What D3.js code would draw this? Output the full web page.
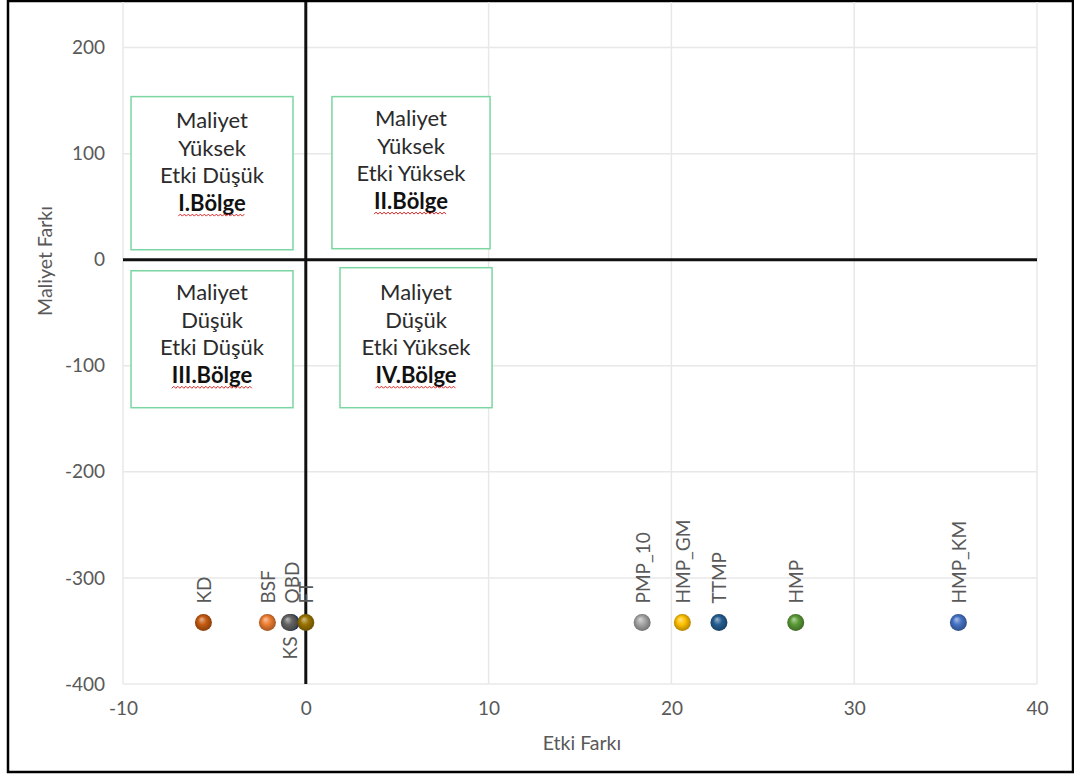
<!DOCTYPE html>
<html>
<head>
<meta charset="utf-8">
<script src="https://cdn.jsdelivr.net/npm/d3@7"></script>
<style>
  html, body { margin: 0; padding: 0; background: #fff; }
  svg { display: block; }
  text { font-family: Lato, "Open Sans", sans-serif; }
</style>
</head>
<body>
<svg id="chart" width="1074" height="774"></svg>
<script>
// Alternatives: effect difference (Etki Farkı) vs cost difference (Maliyet Farkı)
const names        = ["KD", "BSF", "OBD", "KS", "FT", "PMP_10", "HMP_GM", "TTMP", "HMP", "HMP_KM"];
const etkiFarki    = [-5.6, -2.1, -0.8, -0.9, 0.0, 18.4, 20.6, 22.6, 26.8, 35.7];
const maliyetFarki = [-342, -342, -342, -342, -342, -342, -342, -342, -342, -342];
const labelSide    = ["above", "above", "above", "below", "above", "above", "above", "above", "above", "above"];
const pointColors  = ["#c55a11", "#ed7d31", "#264478", "#636363", "#997300", "#a5a5a5", "#ffc000", "#255e91", "#5a9a36", "#4472c4"];

const xTicks = [-10, 0, 10, 20, 30, 40];
const yTicks = [-400, -300, -200, -100, 0, 100, 200];

// Quadrant annotation boxes (corners in data units)
const boxLines = [
  ["Maliyet", "Yüksek", "Etki Düşük", "I.Bölge"],
  ["Maliyet", "Yüksek", "Etki Yüksek", "II.Bölge"],
  ["Maliyet", "Düşük", "Etki Düşük", "III.Bölge"],
  ["Maliyet", "Düşük", "Etki Yüksek", "IV.Bölge"]
];
const boxX0 = [-9.56, 1.43, -9.56, 1.87];
const boxX1 = [-0.70, 10.08, -0.70, 10.19];
const boxY0 = [153.8, 153.8, -10.4, -7.5];
const boxY1 = [9.4, 10.4, -139.5, -139.5];
const boxPad = [23, 21, 21, 24];

const svg = d3.select("#chart");
const W = 1074, H = 774;

const x = d3.scaleLinear().domain([-10, 40]).range([123, 1037]);
const y = d3.scaleLinear().domain([-400, 243]).range([684, 2]);

// outer frame
svg.append("rect")
  .attr("x", 8).attr("y", 1).attr("width", W - 9).attr("height", H - 3)
  .attr("fill", "#fff").attr("stroke", "#000").attr("stroke-width", 2.5);

// gridlines
const grid = svg.append("g").attr("stroke", "#e8e8e8").attr("stroke-width", 1.5);
grid.selectAll("line.h").data(yTicks.filter(d => d !== 0)).join("line")
  .attr("x1", x(-10)).attr("x2", x(40))
  .attr("y1", d => y(d)).attr("y2", d => y(d));
grid.selectAll("line.v").data(xTicks.filter(d => d !== 0)).join("line")
  .attr("y1", y(243)).attr("y2", y(-400))
  .attr("x1", d => x(d)).attr("x2", d => x(d));

// tick labels via d3 axes (domain/ticks hidden)
const xAxis = svg.append("g")
  .attr("transform", `translate(0,${y(-400)})`)
  .call(d3.axisBottom(x).tickValues(xTicks).tickSize(0).tickPadding(18).tickFormat(d3.format("d")));
const yAxis = svg.append("g")
  .attr("transform", `translate(${x(-10)},0)`)
  .call(d3.axisLeft(y).tickValues(yTicks).tickSize(0).tickPadding(18).tickFormat(d3.format("d")));
[xAxis, yAxis].forEach(a => {
  a.select(".domain").remove();
  a.selectAll("text")
    .attr("font-family", "Lato, sans-serif").attr("font-size", 19)
    .attr("fill", "#595959");
  a.selectAll("text").text(d => d < 0 ? "-" + Math.abs(d) : d);
});

// axis lines crossing at zero
svg.append("line")
  .attr("x1", x(-10)).attr("x2", x(40)).attr("y1", y(0)).attr("y2", y(0))
  .attr("stroke", "#111").attr("stroke-width", 3);
svg.append("line")
  .attr("x1", x(0)).attr("x2", x(0)).attr("y1", y(243)).attr("y2", y(-400))
  .attr("stroke", "#111").attr("stroke-width", 3);

// axis titles
svg.append("text")
  .attr("x", (x(-10) + x(40)) / 2 + 2).attr("y", 742)
  .attr("text-anchor", "middle").attr("dominant-baseline", "central")
  .attr("font-size", 19.5).attr("fill", "#595959")
  .text("Etki Farkı");
svg.append("text")
  .attr("transform", `translate(44,261) rotate(-90)`)
  .attr("text-anchor", "middle").attr("dominant-baseline", "central")
  .attr("font-size", 19.5).attr("fill", "#595959")
  .text("Maliyet Farkı");

// quadrant boxes
boxLines.forEach((lines, i) => {
  const g = svg.append("g");
  const bx0 = x(boxX0[i]), bx1 = x(boxX1[i]);
  const by0 = y(boxY0[i]), by1 = y(boxY1[i]);
  g.append("rect")
    .attr("x", bx0).attr("y", by0)
    .attr("width", bx1 - bx0).attr("height", by1 - by0)
    .attr("fill", "#fff").attr("stroke", "#7bd6a2").attr("stroke-width", 1.5);
  const cx = (bx0 + bx1) / 2;
  lines.forEach((t, j) => {
    const bold = j === lines.length - 1;
    const ty = by0 + boxPad[i] + j * 27.5;
    const txt = g.append("text")
      .attr("x", cx).attr("y", ty)
      .attr("text-anchor", "middle").attr("dominant-baseline", "central")
      .attr("font-size", 22)
      .attr("font-weight", bold ? 700 : 400)
      .attr("fill", bold ? "#111" : "#2b2b2b")
      .text(t);
    if (bold) {
      // spell-check style wavy underline
      const w = txt.node().getComputedTextLength();
      const sx = cx - w / 2, ex = cx + w / 2, wy = ty + 13;
      const pts = [];
      let k = 0;
      for (let px = sx; px <= ex; px += 2) { pts.push([px, wy + (k % 2 ? -1 : 1)]); k++; }
      g.append("path").attr("d", d3.line()(pts))
        .attr("fill", "none").attr("stroke", "#e02020").attr("stroke-width", 1);
    }
  });
});

// shaded ball gradients
const defs = svg.append("defs");
pointColors.forEach((c, i) => {
  const base = d3.color(c);
  const grad = defs.append("radialGradient")
    .attr("id", "ball" + i)
    .attr("cx", "50%").attr("cy", "50%").attr("r", "55%")
    .attr("fx", "38%").attr("fy", "30%");
  grad.append("stop").attr("offset", "0%").attr("stop-color", d3.interpolateRgb(c, "#fff")(0.55));
  grad.append("stop").attr("offset", "45%").attr("stop-color", c);
  grad.append("stop").attr("offset", "100%").attr("stop-color", base.darker(1.2).formatHex());
});

// points
svg.append("g").selectAll("circle")
  .data(names.map((n, i) => ({ n, i, ex: etkiFarki[i], my: maliyetFarki[i] })))
  .join("circle")
  .attr("cx", d => x(d.ex)).attr("cy", d => y(d.my))
  .attr("r", 8.5)
  .attr("fill", d => `url(#ball${d.i})`);

// data labels, rotated
svg.append("g").selectAll("text")
  .data(names.map((n, i) => ({ n, i, ex: etkiFarki[i], my: maliyetFarki[i], side: labelSide[i] })))
  .join("text")
  .attr("transform", d => {
    const px = x(d.ex), py = y(d.my) + (d.side === "above" ? -19 : 14);
    return `translate(${px},${py}) rotate(-90)`;
  })
  .attr("text-anchor", d => d.side === "above" ? "start" : "end")
  .attr("dominant-baseline", "central")
  .attr("font-size", 19).attr("fill", "#595959")
  .text(d => d.n);
</script>
</body>
</html>
